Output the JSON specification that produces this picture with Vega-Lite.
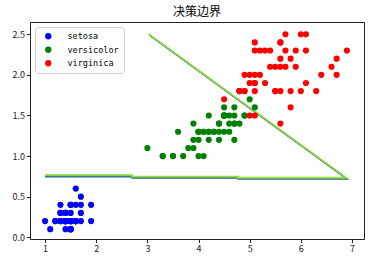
{
  "$schema": "https://vega.github.io/schema/vega-lite/v6.json",
  "width": 334,
  "height": 217,
  "autosize": {"type": "none"},
  "padding": {"left": 30, "top": 22, "right": 10, "bottom": 23},
  "title": {"text": "决策边界", "font": "Noto Sans CJK SC", "fontSize": 12, "fontWeight": "normal", "color": "#000", "offset": 3},
  "config": {
    "view": {"stroke": "#222", "strokeWidth": 1},
    "axis": {"grid": false, "domain": false, "tickColor": "#222", "tickSize": 3.5, "labelColor": "#222", "labelFont": "Noto Sans CJK SC", "labelFontSize": 9, "labelPadding": 2, "title": null}
  },
  "datasets": {
    "boundary": [
      {"level": "a", "i": 0, "x": 1.0, "y": 0.745},
      {"level": "a", "i": 1, "x": 2.7, "y": 0.745},
      {"level": "a", "i": 2, "x": 2.7, "y": 0.728},
      {"level": "a", "i": 3, "x": 4.77, "y": 0.728},
      {"level": "a", "i": 4, "x": 4.77, "y": 0.716},
      {"level": "a", "i": 5, "x": 6.905, "y": 0.716},
      {"level": "a", "i": 6, "x": 3.045, "y": 2.485},
      {"level": "b", "i": 0, "x": 1.0, "y": 0.754},
      {"level": "b", "i": 1, "x": 2.7, "y": 0.754},
      {"level": "b", "i": 2, "x": 2.7, "y": 0.737},
      {"level": "b", "i": 3, "x": 4.77, "y": 0.737},
      {"level": "b", "i": 4, "x": 4.77, "y": 0.725},
      {"level": "b", "i": 5, "x": 6.895, "y": 0.725},
      {"level": "b", "i": 6, "x": 3.035, "y": 2.494},
      {"level": "c", "i": 0, "x": 1.0, "y": 0.762},
      {"level": "c", "i": 1, "x": 2.7, "y": 0.762},
      {"level": "c", "i": 2, "x": 2.7, "y": 0.744},
      {"level": "c", "i": 3, "x": 4.77, "y": 0.744},
      {"level": "c", "i": 4, "x": 4.77, "y": 0.731},
      {"level": "c", "i": 5, "x": 6.89, "y": 0.731},
      {"level": "c", "i": 6, "x": 3.028, "y": 2.5},
      {"level": "d", "i": 0, "x": 1.0, "y": 0.768},
      {"level": "d", "i": 1, "x": 2.7, "y": 0.768},
      {"level": "d", "i": 2, "x": 2.7, "y": 0.749},
      {"level": "d", "i": 3, "x": 4.77, "y": 0.749},
      {"level": "d", "i": 4, "x": 4.77, "y": 0.736},
      {"level": "d", "i": 5, "x": 6.88, "y": 0.736},
      {"level": "d", "i": 6, "x": 3.02, "y": 2.505}
    ],
    "iris": [
      {"petal_length": 1.4, "petal_width": 0.2, "class": "setosa"},
      {"petal_length": 1.4, "petal_width": 0.2, "class": "setosa"},
      {"petal_length": 1.3, "petal_width": 0.2, "class": "setosa"},
      {"petal_length": 1.5, "petal_width": 0.2, "class": "setosa"},
      {"petal_length": 1.4, "petal_width": 0.2, "class": "setosa"},
      {"petal_length": 1.7, "petal_width": 0.4, "class": "setosa"},
      {"petal_length": 1.4, "petal_width": 0.3, "class": "setosa"},
      {"petal_length": 1.5, "petal_width": 0.2, "class": "setosa"},
      {"petal_length": 1.4, "petal_width": 0.2, "class": "setosa"},
      {"petal_length": 1.5, "petal_width": 0.1, "class": "setosa"},
      {"petal_length": 1.5, "petal_width": 0.2, "class": "setosa"},
      {"petal_length": 1.6, "petal_width": 0.2, "class": "setosa"},
      {"petal_length": 1.4, "petal_width": 0.1, "class": "setosa"},
      {"petal_length": 1.1, "petal_width": 0.1, "class": "setosa"},
      {"petal_length": 1.2, "petal_width": 0.2, "class": "setosa"},
      {"petal_length": 1.5, "petal_width": 0.4, "class": "setosa"},
      {"petal_length": 1.3, "petal_width": 0.4, "class": "setosa"},
      {"petal_length": 1.4, "petal_width": 0.3, "class": "setosa"},
      {"petal_length": 1.7, "petal_width": 0.3, "class": "setosa"},
      {"petal_length": 1.5, "petal_width": 0.3, "class": "setosa"},
      {"petal_length": 1.7, "petal_width": 0.2, "class": "setosa"},
      {"petal_length": 1.5, "petal_width": 0.4, "class": "setosa"},
      {"petal_length": 1.0, "petal_width": 0.2, "class": "setosa"},
      {"petal_length": 1.7, "petal_width": 0.5, "class": "setosa"},
      {"petal_length": 1.9, "petal_width": 0.2, "class": "setosa"},
      {"petal_length": 1.6, "petal_width": 0.2, "class": "setosa"},
      {"petal_length": 1.6, "petal_width": 0.4, "class": "setosa"},
      {"petal_length": 1.5, "petal_width": 0.2, "class": "setosa"},
      {"petal_length": 1.4, "petal_width": 0.2, "class": "setosa"},
      {"petal_length": 1.6, "petal_width": 0.2, "class": "setosa"},
      {"petal_length": 1.6, "petal_width": 0.2, "class": "setosa"},
      {"petal_length": 1.5, "petal_width": 0.4, "class": "setosa"},
      {"petal_length": 1.5, "petal_width": 0.1, "class": "setosa"},
      {"petal_length": 1.4, "petal_width": 0.2, "class": "setosa"},
      {"petal_length": 1.5, "petal_width": 0.1, "class": "setosa"},
      {"petal_length": 1.2, "petal_width": 0.2, "class": "setosa"},
      {"petal_length": 1.3, "petal_width": 0.2, "class": "setosa"},
      {"petal_length": 1.5, "petal_width": 0.1, "class": "setosa"},
      {"petal_length": 1.3, "petal_width": 0.2, "class": "setosa"},
      {"petal_length": 1.5, "petal_width": 0.2, "class": "setosa"},
      {"petal_length": 1.3, "petal_width": 0.3, "class": "setosa"},
      {"petal_length": 1.3, "petal_width": 0.3, "class": "setosa"},
      {"petal_length": 1.3, "petal_width": 0.2, "class": "setosa"},
      {"petal_length": 1.6, "petal_width": 0.6, "class": "setosa"},
      {"petal_length": 1.9, "petal_width": 0.4, "class": "setosa"},
      {"petal_length": 1.4, "petal_width": 0.3, "class": "setosa"},
      {"petal_length": 1.6, "petal_width": 0.2, "class": "setosa"},
      {"petal_length": 1.4, "petal_width": 0.2, "class": "setosa"},
      {"petal_length": 1.5, "petal_width": 0.2, "class": "setosa"},
      {"petal_length": 1.4, "petal_width": 0.2, "class": "setosa"},
      {"petal_length": 4.7, "petal_width": 1.4, "class": "versicolor"},
      {"petal_length": 4.5, "petal_width": 1.5, "class": "versicolor"},
      {"petal_length": 4.9, "petal_width": 1.5, "class": "versicolor"},
      {"petal_length": 4.0, "petal_width": 1.3, "class": "versicolor"},
      {"petal_length": 4.6, "petal_width": 1.5, "class": "versicolor"},
      {"petal_length": 4.5, "petal_width": 1.3, "class": "versicolor"},
      {"petal_length": 4.7, "petal_width": 1.6, "class": "versicolor"},
      {"petal_length": 3.3, "petal_width": 1.0, "class": "versicolor"},
      {"petal_length": 4.6, "petal_width": 1.3, "class": "versicolor"},
      {"petal_length": 3.9, "petal_width": 1.4, "class": "versicolor"},
      {"petal_length": 3.5, "petal_width": 1.0, "class": "versicolor"},
      {"petal_length": 4.2, "petal_width": 1.5, "class": "versicolor"},
      {"petal_length": 4.0, "petal_width": 1.0, "class": "versicolor"},
      {"petal_length": 4.7, "petal_width": 1.4, "class": "versicolor"},
      {"petal_length": 3.6, "petal_width": 1.3, "class": "versicolor"},
      {"petal_length": 4.4, "petal_width": 1.4, "class": "versicolor"},
      {"petal_length": 4.5, "petal_width": 1.5, "class": "versicolor"},
      {"petal_length": 4.1, "petal_width": 1.0, "class": "versicolor"},
      {"petal_length": 4.5, "petal_width": 1.5, "class": "versicolor"},
      {"petal_length": 3.9, "petal_width": 1.1, "class": "versicolor"},
      {"petal_length": 4.8, "petal_width": 1.8, "class": "versicolor"},
      {"petal_length": 4.0, "petal_width": 1.3, "class": "versicolor"},
      {"petal_length": 4.9, "petal_width": 1.5, "class": "versicolor"},
      {"petal_length": 4.7, "petal_width": 1.2, "class": "versicolor"},
      {"petal_length": 4.3, "petal_width": 1.3, "class": "versicolor"},
      {"petal_length": 4.4, "petal_width": 1.4, "class": "versicolor"},
      {"petal_length": 4.8, "petal_width": 1.4, "class": "versicolor"},
      {"petal_length": 5.0, "petal_width": 1.7, "class": "versicolor"},
      {"petal_length": 4.5, "petal_width": 1.5, "class": "versicolor"},
      {"petal_length": 3.5, "petal_width": 1.0, "class": "versicolor"},
      {"petal_length": 3.8, "petal_width": 1.1, "class": "versicolor"},
      {"petal_length": 3.7, "petal_width": 1.0, "class": "versicolor"},
      {"petal_length": 3.9, "petal_width": 1.2, "class": "versicolor"},
      {"petal_length": 5.1, "petal_width": 1.6, "class": "versicolor"},
      {"petal_length": 4.5, "petal_width": 1.5, "class": "versicolor"},
      {"petal_length": 4.5, "petal_width": 1.6, "class": "versicolor"},
      {"petal_length": 4.7, "petal_width": 1.5, "class": "versicolor"},
      {"petal_length": 4.4, "petal_width": 1.3, "class": "versicolor"},
      {"petal_length": 4.1, "petal_width": 1.3, "class": "versicolor"},
      {"petal_length": 4.0, "petal_width": 1.3, "class": "versicolor"},
      {"petal_length": 4.4, "petal_width": 1.2, "class": "versicolor"},
      {"petal_length": 4.6, "petal_width": 1.4, "class": "versicolor"},
      {"petal_length": 4.0, "petal_width": 1.2, "class": "versicolor"},
      {"petal_length": 3.3, "petal_width": 1.0, "class": "versicolor"},
      {"petal_length": 4.2, "petal_width": 1.3, "class": "versicolor"},
      {"petal_length": 4.2, "petal_width": 1.2, "class": "versicolor"},
      {"petal_length": 4.2, "petal_width": 1.3, "class": "versicolor"},
      {"petal_length": 4.3, "petal_width": 1.3, "class": "versicolor"},
      {"petal_length": 3.0, "petal_width": 1.1, "class": "versicolor"},
      {"petal_length": 4.1, "petal_width": 1.3, "class": "versicolor"},
      {"petal_length": 6.0, "petal_width": 2.5, "class": "virginica"},
      {"petal_length": 5.1, "petal_width": 1.9, "class": "virginica"},
      {"petal_length": 5.9, "petal_width": 2.1, "class": "virginica"},
      {"petal_length": 5.6, "petal_width": 1.8, "class": "virginica"},
      {"petal_length": 5.8, "petal_width": 2.2, "class": "virginica"},
      {"petal_length": 6.6, "petal_width": 2.1, "class": "virginica"},
      {"petal_length": 4.5, "petal_width": 1.7, "class": "virginica"},
      {"petal_length": 6.3, "petal_width": 1.8, "class": "virginica"},
      {"petal_length": 5.8, "petal_width": 1.8, "class": "virginica"},
      {"petal_length": 6.1, "petal_width": 2.5, "class": "virginica"},
      {"petal_length": 5.1, "petal_width": 2.0, "class": "virginica"},
      {"petal_length": 5.3, "petal_width": 1.9, "class": "virginica"},
      {"petal_length": 5.5, "petal_width": 2.1, "class": "virginica"},
      {"petal_length": 5.0, "petal_width": 2.0, "class": "virginica"},
      {"petal_length": 5.1, "petal_width": 2.4, "class": "virginica"},
      {"petal_length": 5.3, "petal_width": 2.3, "class": "virginica"},
      {"petal_length": 5.5, "petal_width": 1.8, "class": "virginica"},
      {"petal_length": 6.7, "petal_width": 2.2, "class": "virginica"},
      {"petal_length": 6.9, "petal_width": 2.3, "class": "virginica"},
      {"petal_length": 5.0, "petal_width": 1.5, "class": "virginica"},
      {"petal_length": 5.7, "petal_width": 2.3, "class": "virginica"},
      {"petal_length": 4.9, "petal_width": 2.0, "class": "virginica"},
      {"petal_length": 6.7, "petal_width": 2.0, "class": "virginica"},
      {"petal_length": 4.9, "petal_width": 1.8, "class": "virginica"},
      {"petal_length": 5.7, "petal_width": 2.1, "class": "virginica"},
      {"petal_length": 6.0, "petal_width": 1.8, "class": "virginica"},
      {"petal_length": 4.8, "petal_width": 1.8, "class": "virginica"},
      {"petal_length": 4.9, "petal_width": 1.8, "class": "virginica"},
      {"petal_length": 5.6, "petal_width": 2.1, "class": "virginica"},
      {"petal_length": 5.8, "petal_width": 1.6, "class": "virginica"},
      {"petal_length": 6.1, "petal_width": 1.9, "class": "virginica"},
      {"petal_length": 6.4, "petal_width": 2.0, "class": "virginica"},
      {"petal_length": 5.6, "petal_width": 2.2, "class": "virginica"},
      {"petal_length": 5.1, "petal_width": 1.5, "class": "virginica"},
      {"petal_length": 5.6, "petal_width": 1.4, "class": "virginica"},
      {"petal_length": 6.1, "petal_width": 2.3, "class": "virginica"},
      {"petal_length": 5.6, "petal_width": 2.4, "class": "virginica"},
      {"petal_length": 5.5, "petal_width": 1.8, "class": "virginica"},
      {"petal_length": 4.8, "petal_width": 1.8, "class": "virginica"},
      {"petal_length": 5.4, "petal_width": 2.1, "class": "virginica"},
      {"petal_length": 5.6, "petal_width": 2.4, "class": "virginica"},
      {"petal_length": 5.1, "petal_width": 2.3, "class": "virginica"},
      {"petal_length": 5.1, "petal_width": 1.9, "class": "virginica"},
      {"petal_length": 5.9, "petal_width": 2.3, "class": "virginica"},
      {"petal_length": 5.7, "petal_width": 2.5, "class": "virginica"},
      {"petal_length": 5.2, "petal_width": 2.3, "class": "virginica"},
      {"petal_length": 5.0, "petal_width": 1.9, "class": "virginica"},
      {"petal_length": 5.2, "petal_width": 2.0, "class": "virginica"},
      {"petal_length": 5.4, "petal_width": 2.3, "class": "virginica"},
      {"petal_length": 5.1, "petal_width": 1.8, "class": "virginica"}
    ]
  },
  "layer": [
    {
      "data": {"name": "boundary"},
      "mark": {"type": "line", "strokeWidth": 1.4, "interpolate": "linear"},
      "encoding": {
        "x": {"field": "x", "type": "quantitative", "scale": {"domain": [0.705, 7.235], "nice": false, "zero": false}, "axis": {"values": [1, 2, 3, 4, 5, 6, 7], "format": "d"}},
        "y": {"field": "y", "type": "quantitative", "scale": {"domain": [-0.021, 2.651], "nice": false, "zero": false}, "axis": {"values": [0, 0.5, 1, 1.5, 2, 2.5], "format": ".1f"}},
        "color": {"field": "level", "type": "nominal", "scale": {"domain": ["a", "b", "c", "d"], "range": ["#3b528b", "#21918c", "#5ec962", "#9bd93c"]}, "legend": null},
        "order": {"field": "i", "type": "quantitative"}
      }
    },
    {
      "data": {"name": "iris"},
      "mark": {"type": "point", "filled": true, "opacity": 1, "size": 38, "shape": "circle", "strokeWidth": 0},
      "encoding": {
        "x": {"field": "petal_length", "type": "quantitative"},
        "y": {"field": "petal_width", "type": "quantitative"},
        "color": {
          "field": "class", "type": "nominal",
          "scale": {"domain": ["setosa", "versicolor", "virginica"], "range": ["#0000ff", "#008000", "#ff0000"]},
          "legend": {
            "title": null, "orient": "none", "legendX": 5, "legendY": 5,
            "padding": 5, "symbolOffset": 4, "symbolType": "circle", "symbolSize": 40, "symbolStrokeWidth": 0,
            "labelFont": "DejaVu Sans Mono", "labelFontSize": 8.5, "labelColor": "#000", "labelOffset": 15,
            "rowPadding": 4.5, "strokeColor": "#cccccc", "fillColor": "#ffffff", "cornerRadius": 3
          }
        }
      }
    }
  ],
  "resolve": {"scale": {"color": "independent"}}
}
